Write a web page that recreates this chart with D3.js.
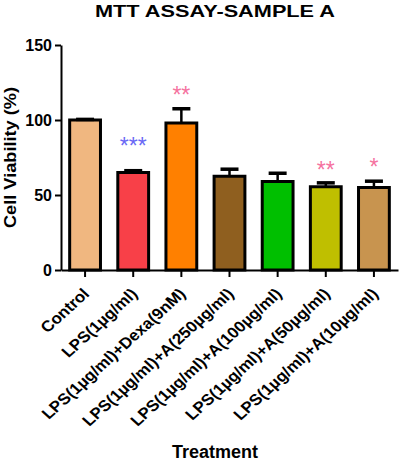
<!DOCTYPE html>
<html>
<head>
<meta charset="utf-8">
<script src="https://cdn.jsdelivr.net/npm/d3@7"></script>
<style>
  body { margin: 0; background: #fff; }
  text { font-family: "Liberation Sans", Arial, Helvetica, sans-serif; }
</style>
</head>
<body>
<svg id="chart" width="400" height="466"></svg>
<script>
const categories = [
  "Control",
  "LPS(1µg/ml)",
  "LPS(1µg/ml)+Dexa(9nM)",
  "LPS(1µg/ml)+A(250µg/ml)",
  "LPS(1µg/ml)+A(100µg/ml)",
  "LPS(1µg/ml)+A(50µg/ml)",
  "LPS(1µg/ml)+A(10µg/ml)",
];
const means = [100, 65, 98, 62.5, 59, 55.5, 55];
const errors = [0.4, 1.2, 9.5, 4.7, 5.5, 2.6, 4.2];
const stars = ["", "***", "**", "", "", "**", "*"];
const starLevels = [null, 86, 120, null, null, 70, 72];
const yTicks = [0, 50, 100, 150];

const barColors = ["#F0B780", "#F84048", "#FF8000", "#8F5F1F", "#00BF00", "#BFBF00", "#C8944F"];
const starColors = [null, "#6A6AF5", "#F5739F", null, null, "#F5739F", "#F5739F"];

const svg = d3.select("#chart");

const x = d3.scaleBand()
  .domain(categories)
  .range([61, 398])
  .paddingInner(0.36)
  .paddingOuter(0.18);

const y = d3.scaleLinear().domain([0, 150]).range([270, 45]);

const rows = categories.map((c, i) => ({
  cat: c, mean: means[i], err: errors[i], star: stars[i],
  level: starLevels[i], color: barColors[i], starColor: starColors[i],
}));

// bars
svg.append("g")
  .selectAll("rect")
  .data(rows)
  .enter()
  .append("rect")
  .attr("x", d => x(d.cat))
  .attr("y", d => y(d.mean))
  .attr("width", x.bandwidth())
  .attr("height", d => y(0) - y(d.mean))
  .attr("fill", d => d.color)
  .attr("stroke", "#000")
  .attr("stroke-width", 3);

// error bars
const eb = svg.append("g").selectAll("g").data(rows).enter().append("g");
eb.append("line")
  .attr("x1", d => x(d.cat) + x.bandwidth() / 2)
  .attr("x2", d => x(d.cat) + x.bandwidth() / 2)
  .attr("y1", d => y(d.mean))
  .attr("y2", d => y(d.mean + d.err))
  .attr("stroke", "#000")
  .attr("stroke-width", 2.5);
eb.append("line")
  .attr("x1", d => x(d.cat) + x.bandwidth() / 2 - 9)
  .attr("x2", d => x(d.cat) + x.bandwidth() / 2 + 9)
  .attr("y1", d => y(d.mean + d.err))
  .attr("y2", d => y(d.mean + d.err))
  .attr("stroke", "#000")
  .attr("stroke-width", 3.5);

// significance stars
svg.append("g")
  .selectAll("text")
  .data(rows.filter(d => d.star))
  .enter()
  .append("text")
  .attr("x", d => x(d.cat) + x.bandwidth() / 2)
  .attr("y", d => y(d.level) + 13)
  .attr("text-anchor", "middle")
  .attr("font-size", 23)
  .attr("fill", d => d.starColor)
  .text(d => d.star);

// y axis
const yAxis = svg.append("g")
  .attr("transform", "translate(61,0)")
  .call(d3.axisLeft(y).tickValues(yTicks).tickSize(6).tickSizeOuter(0));
yAxis.select(".domain").attr("stroke-width", 2);
yAxis.selectAll(".tick line").attr("stroke-width", 2);
yAxis.selectAll(".tick text")
  .attr("font-size", 16)
  .attr("font-weight", "bold")
  .attr("fill", "#000")
  .attr("font-family", "Liberation Sans, Arial, sans-serif");

// x axis
const xAxis = svg.append("g")
  .attr("transform", "translate(0,270)")
  .call(d3.axisBottom(x).tickSize(7).tickSizeOuter(0));
xAxis.select(".domain").attr("stroke-width", 2);
xAxis.selectAll(".tick line").attr("stroke-width", 2);
xAxis.selectAll(".tick text")
  .attr("x", 0)
  .attr("y", 0)
  .attr("dy", "0.35em")
  .attr("text-anchor", "end")
  .attr("transform", "translate(1,21) scale(1.1,1) rotate(-45)")
  .attr("font-size", 15.5)
  .attr("font-weight", "bold")
  .attr("fill", "#000")
  .attr("font-family", "Liberation Sans, Arial, sans-serif");

// title and axis labels
svg.append("text")
  .attr("x", 215)
  .attr("y", 17)
  .attr("text-anchor", "middle")
  .attr("font-size", 17)
  .attr("font-weight", "bold")
  .attr("textLength", 240)
  .attr("lengthAdjust", "spacingAndGlyphs")
  .text("MTT ASSAY-SAMPLE A");

svg.append("text")
  .attr("transform", "translate(16,157.5) rotate(-90)")
  .attr("text-anchor", "middle")
  .attr("font-size", 17)
  .attr("font-weight", "bold")
  .attr("textLength", 141)
  .attr("lengthAdjust", "spacingAndGlyphs")
  .text("Cell Viability (%)");

svg.append("text")
  .attr("x", 215)
  .attr("y", 458)
  .attr("text-anchor", "middle")
  .attr("font-size", 18)
  .attr("font-weight", "bold")
  .text("Treatment");
</script>
</body>
</html>
